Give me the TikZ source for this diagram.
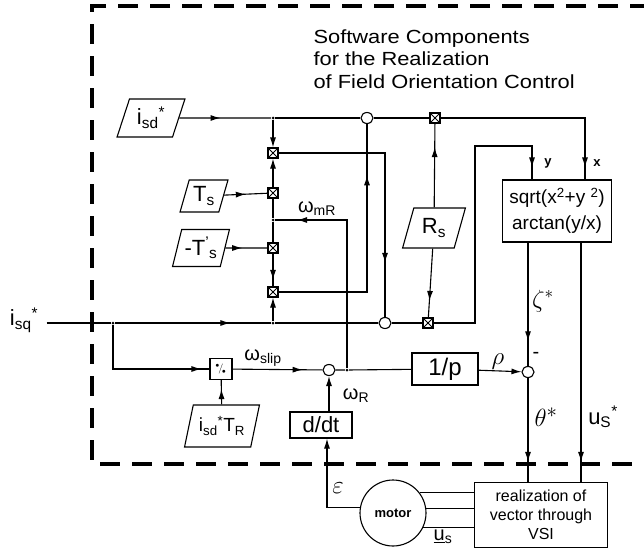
\documentclass[tikz,border=0pt]{standalone}
\usepackage{fontspec}
\setmainfont{Liberation Sans}
\newfontfamily\titlefont[FakeStretch=1.15]{Liberation Sans}
\usetikzlibrary{arrows.meta,shapes.geometric,decorations.markings}

\newcommand\subtx[1]{\textsubscript{#1}}
\newcommand\startx{\textsuperscript{*}}

\begin{document}
\begin{tikzpicture}[x=1pt, y=-1pt, line width=1.1pt,
	every node/.style={inner sep=0pt},
	param/.style={draw, trapezium, trapezium left angle=70, trapezium right angle=110, trapezium stretches=true, font=\fontsize{22}{22}\selectfont},
	mult/.style={draw, minimum size=10pt, path picture={\draw[line width=0.8pt] (path picture bounding box.north west) -- (path picture bounding box.south east) (path picture bounding box.north east) -- (path picture bounding box.south west);}},
	adder/.style={draw, ellipse, minimum width=12pt, minimum height=11pt},
	dot/.style={circle, fill, minimum size=3pt},
	block/.style={draw, rectangle},
	midarrow/.style={postaction={decorate}, decoration={markings, mark=at position #1 with {\arrow{Latex[length=10pt,width=6pt]}}}},
	tip/.style={-{Latex[length=10pt,width=6pt]}},
	frame/.style={line width=3.5pt, dash pattern=on 20pt off 12pt},
	lbl/.style={font=\fontsize{20}{20}\selectfont},
	greek/.style={font=\fontsize{#1}{#1}\selectfont},
	]
	\useasboundingbox (0,0) rectangle (644,554);
	\draw[frame] (650,6) -- (92,6) -- (92,464) -- (650,464);
	\node[anchor=north west, align=left, font=\titlefont\fontsize{19}{22.5}\selectfont] (title) at (313,29) {Software Components\\for the Realization\\of Field Orientation Control};
	
	% parameters
	\node[param, minimum width=68pt, minimum height=38pt] (isd) at (151,118) {i\subtx{sd}\startx};
	\node[param, minimum width=48pt, minimum height=32pt] (Ts) at (204,196) {T\subtx{s}};
	\node[param, minimum width=57pt, minimum height=37pt] (mTs) at (201,248) {-T\textsuperscript{'}\subtx{s}};
	\node[param, minimum width=63pt, minimum height=40pt] (Rs) at (434,228) {R\subtx{s}};
	\node[param, minimum width=75pt, minimum height=42pt, font=\fontsize{19}{19}\selectfont] (isdTR) at (222,426) {i\subtx{sd}\startx T\subtx{R}};
	
	% multipliers, adders, branch points
	\foreach \n/\y in {m1/153, m2/193, m3/248, m4/292} {
		\node[mult] (\n) at (273,\y) {};
	}
	\node[mult] (m5) at (435,118) {};
	\node[mult] (m6) at (428,323) {};
	\node[adder] (a1) at (367,118) {};
	\node[adder] (a2) at (385,323) {};
	\node[adder] (a3) at (329,370) {};
	\node[adder] (a4) at (528,372) {};
	\foreach \n/\x/\y in {j1/273/118, j2/273/220, j3/273/323, j4/113/323, j5/347/370} {
		\node[dot] (\n) at (\x,\y) {};
	}
	
	% blocks
	\node[block, minimum width=22pt, minimum height=21pt, font=\fontsize{10}{10}\selectfont] (div) at (221,369) {$^{\bullet}\!/_{\!\bullet}$};
	\node[block, minimum width=109pt, minimum height=62pt, align=center, font=\fontsize{19}{26}\selectfont] (cart) at (557,211) {sqrt(x\textsuperscript{2}+y \textsuperscript{2})\\arctan(y/x)};
	\node[block, minimum width=66pt, minimum height=32pt, font=\fontsize{24}{24}\selectfont] (onep) at (445,369) {1/p};
	\node[block, minimum width=62pt, minimum height=26pt, font=\fontsize{22}{22}\selectfont] (ddt) at (321,425) {d/dt};
	\node[draw, circle, minimum size=66pt, font=\bfseries\fontsize{13}{13}\selectfont] (motor) at (393,513) {motor};
	\node[block, minimum width=133pt, minimum height=65pt, align=center, font=\fontsize{16}{19}\selectfont] (vsi) at (541,515) {realization of\\vector through\\VSI};
	
	% isd* path
	\draw[midarrow=0.45] (isd) -- (j1);
	\draw (j1) -- (a1) (a1) -- (m5);
	\draw[midarrow=-12pt] (m5) -| ([xshift=28pt]cart.north);
	\node[font=\bfseries\fontsize{13}{13}\selectfont] (xlbl) at (597,163) {x};
	
	% multiplier column
	\draw[tip] (j1) -- (m1);
	\draw (j2) -- (m2);
	\draw[tip] (m2) -- (m1);
	\draw[midarrow=0.5] (Ts) -- (m2);
	\draw[midarrow=0.4] (mTs) -- (m3);
	\draw (j2) -- (m3);
	\draw[midarrow=0.8] (m3) -- (m4);
	\draw[tip] (j3) -- (m4);
	\draw[midarrow=0.8] (m1) -| (a2);
	\draw[midarrow=0.8] (m4) -| (a1);
	\draw[midarrow=0.9] (j5) |- (j2);
	\node[lbl] (wmr) at (317,209) {ω\subtx{mR}};
	
	% isq* path
	\node[font=\fontsize{22}{22}\selectfont] (isq) at (24,320) {i\subtx{sq}\startx};
	\draw ([xshift=8pt]isq.east |- j4) -- (j4);
	\draw[midarrow=0.74] (j4) -- (j3);
	\draw (j3) -- (a2) (a2) -- (m6);
	\coordinate (ybend) at (475,146);
	\draw[midarrow=-12pt] (m6) -| (ybend) -| ([xshift=-25pt]cart.north);
	\node[font=\bfseries\fontsize{13}{13}\selectfont] (ylbl) at (548,163) {y};
	
	% slip path
	\draw[midarrow=-8pt] (j4) |- (div);
	\draw[midarrow=-9pt] (isdTR) -- (div);
	\draw[midarrow=0.78] (div) -- (a3);
	\node[lbl] (wslip) at (263,358) {ω\subtx{slip}};
	\draw[tip] (ddt.north -| a3) -- (a3);
	\node[lbl] (wr) at (356,396) {ω\subtx{R}};
	\draw (a3) -- (j5) (j5) -- (onep);
	\draw[tip] (onep) -- (a4);
	\node[greek=28] (rho) at (498,362) {$\rho$};
	
	% Rs
	\draw[midarrow=0.72] (Rs) -- (m5);
	\draw[midarrow=0.76] (Rs) -- (m6);
	
	% outputs
	\draw[midarrow=0.8] ([xshift=-29pt]cart.south) -- (a4);
	\node[greek=26] (zeta) at (543,301) {$\zeta^*$};
	\node[lbl] (minus) at (536,355) {-};
	\draw[midarrow=-20pt] (a4) -- (vsi.north -| a4);
	\node[greek=30] (theta) at (546,417) {$\theta^*$};
	\draw[midarrow=-20pt] ([xshift=24pt]cart.south) -- ([xshift=24pt]cart.south |- vsi.north);
	\node[font=\fontsize{22}{22}\selectfont] (us) at (603,417) {u\subtx{S}\startx};
	
	% motor
	\draw[tip] (motor.171) -| ([xshift=6pt]ddt.south);
	\node[greek=26] (eps) at (338,488) {$\varepsilon$};
	\foreach \ang in {37,7,-25} {
		\draw (motor.\ang) -- (motor.\ang -| vsi.west);
	}
	\node[font=\fontsize{20}{20}\selectfont] (usvec) at (443,537) {\underline{u}\subtx{s}};
\end{tikzpicture}
\end{document}
